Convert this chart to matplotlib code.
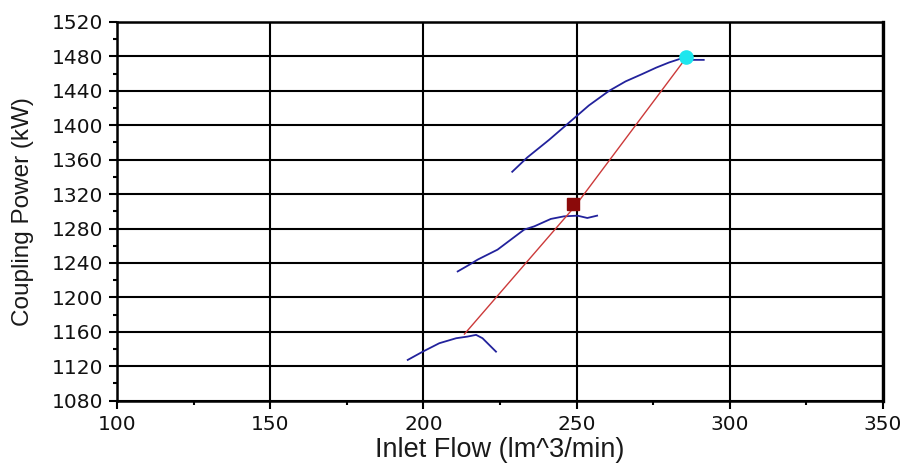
import matplotlib
matplotlib.use("Agg")
import matplotlib.pyplot as plt
from matplotlib.ticker import MultipleLocator

# Coupling power vs inlet flow at three operating speeds
flow_high = [229.0, 233.9, 241.0, 248.0, 254.0, 260.6, 266.0, 271.4, 276.0, 280.2, 285.0, 288.0, 291.5]
power_high = [1346, 1362.6, 1383, 1404.5, 1423, 1440, 1451, 1459.5, 1467, 1473, 1478.6, 1476, 1476]

flow_mid = [211.2, 215.0, 217.7, 224.2, 232.9, 236.2, 241.6, 245.9, 250.3, 253.5, 256.7]
power_mid = [1230.2, 1238, 1243.9, 1255.5, 1278.8, 1282.6, 1291.2, 1294.2, 1295, 1292.3, 1295]

flow_low = [194.9, 199.8, 205.2, 210.7, 214.4, 217.2, 219.3, 221.5, 223.7]
power_low = [1127.4, 1137, 1146.8, 1152.6, 1154.5, 1156.5, 1152.6, 1144.8, 1137]

# Operating line joining the three curves
op_flow = [213.4, 249.5, 285.8]
op_power = [1157.4, 1306, 1478.6]

# Operating points
design_pt = (248.9, 1309)
max_pt = (285.8, 1479)

x_ticks = [100, 150, 200, 250, 300, 350]
y_ticks = [1080, 1120, 1160, 1200, 1240, 1280, 1320, 1360, 1400, 1440, 1480, 1520]

fig = plt.figure(figsize=(9.06, 4.66), dpi=100)
ax = fig.add_axes([0.1291, 0.1401, 0.8455, 0.8127])

blue = "#22229c"
ax.plot(flow_high, power_high, color=blue, lw=1.3, zorder=3)
ax.plot(flow_mid, power_mid, color=blue, lw=1.3, zorder=3)
ax.plot(flow_low, power_low, color=blue, lw=1.3, zorder=3)
ax.plot(op_flow, op_power, color="#cc3a3a", lw=1.0, zorder=4)
ax.plot([design_pt[0]], [design_pt[1]], marker="s", ms=8.5, color="#8b0a0a", zorder=5)
ax.plot([max_pt[0]], [max_pt[1]], marker="o", ms=9.5, color="#1ee6ee", zorder=5)

ax.set_xlim(x_ticks[0], x_ticks[-1])
ax.set_ylim(y_ticks[0], y_ticks[-1])
ax.set_xticks(x_ticks)
ax.set_yticks(y_ticks)
ax.xaxis.set_minor_locator(MultipleLocator(25))
ax.yaxis.set_minor_locator(MultipleLocator(20))

ax.grid(True, which="major", color="black", lw=1.5, zorder=1)
ax.set_axisbelow(True)
for side in ["left", "bottom", "top"]:
    ax.spines[side].set_linewidth(1.8)
ax.spines["right"].set_linewidth(2.4)

ax.tick_params(which="major", direction="out", length=6, width=1.5, pad=4)
ax.tick_params(which="minor", direction="out", length=3, width=1.5)
for lbl in ax.get_xticklabels() + ax.get_yticklabels():
    lbl.set_fontfamily("DejaVu Sans")
    lbl.set_fontsize(14.5)
    lbl.set_color("#111111")

ax.set_xlabel("Inlet Flow (lm^3/min)", family="Liberation Sans", fontsize=19.5, color="#1a1a1a")
ax.set_ylabel("Coupling Power (kW)", family="Liberation Sans", fontsize=17.5, color="#1a1a1a")
ax.xaxis.set_label_coords(0.5, -0.096)
ax.yaxis.set_label_coords(-0.108, 0.5)

fig.savefig("out.png", dpi=100)
